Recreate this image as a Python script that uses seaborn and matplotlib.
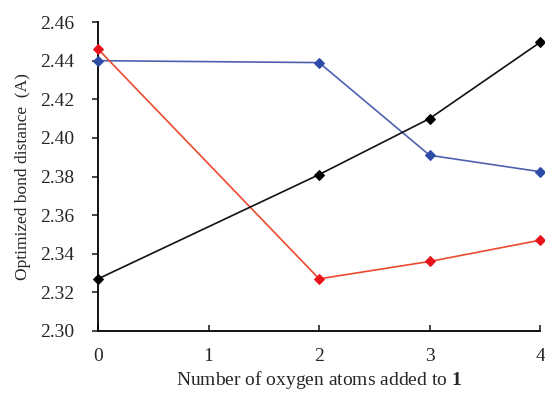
import matplotlib
matplotlib.use("Agg")
import matplotlib.pyplot as plt
import seaborn as sns

# number of oxygen atoms added
OXYGENS = [0, 2, 3, 4]

BLACK_SERIES = [2.327, 2.381, 2.410, 2.4495]
BLUE_SERIES = [2.440, 2.439, 2.391, 2.3825]
RED_SERIES = [2.446, 2.327, 2.336, 2.347]

X_TICKS = [0, 1, 2, 3, 4]
Y_TICKS = [2.30, 2.32, 2.34, 2.36, 2.38, 2.40, 2.42, 2.44, 2.46]

sns.set_style("ticks")
plt.rcParams['font.family'] = ['Liberation Serif', 'DejaVu Serif']
plt.rcParams['mathtext.fontset'] = 'custom'
plt.rcParams['mathtext.rm'] = 'Liberation Serif'
plt.rcParams['mathtext.bf'] = 'Liberation Serif:bold'

fig = plt.figure(figsize=(5.45, 3.94), dpi=100)
ax = fig.add_axes([0.18, 0.16, 0.811, 0.784])

series = [
    (BLUE_SERIES, '#5060b0', '#2c4ca8'),
    (RED_SERIES, '#ea4a2e', '#e8141c'),
    (BLACK_SERIES, '#111111', '#000000'),
]
for values, line_color, marker_color in series:
    sns.lineplot(x=OXYGENS, y=values, ax=ax, color=line_color, linewidth=1.2,
                 marker='D', markersize=5.5, markerfacecolor=marker_color,
                 markeredgecolor=marker_color, clip_on=False, zorder=3)

ax.set_xlim(0, 4)
ax.set_ylim(2.30, 2.46)
ax.set_xticks(X_TICKS)
ax.set_yticks(Y_TICKS)
ax.set_yticklabels([f'{v:.2f}' for v in Y_TICKS])
ax.tick_params(axis='x', direction='in', length=4, width=1.2, labelsize=14, pad=12)
ax.tick_params(axis='y', direction='out', length=4, width=1.2, labelsize=14, pad=13)
for side in ['left', 'bottom']:
    ax.spines[side].set_linewidth(1.3)
    ax.spines[side].set_color('black')
sns.despine(ax=ax)

ax.set_xlabel(r'Number of oxygen atoms added to $\mathbf{1}$', fontsize=14, labelpad=3)
ax.set_ylabel('Optimized bond distance  (A)', fontsize=12.5, labelpad=7)

fig.savefig('out.png', dpi=100)
